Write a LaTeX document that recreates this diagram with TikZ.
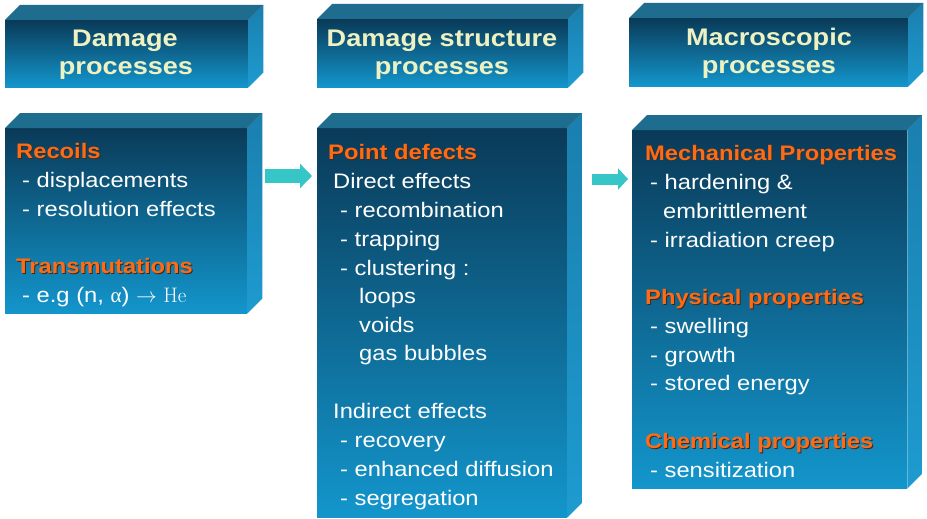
\documentclass[tikz,border=0pt]{standalone}
\usepackage{fontspec}
\setmainfont{Liberation Sans}[FakeStretch=1.13]
\newfontfamily\lmrom{Latin Modern Roman}
\newfontfamily\tnrom{Liberation Serif}
\usetikzlibrary{arrows.meta,calc}
\definecolor{topdark}{HTML}{0A3A58}
\definecolor{botbright}{HTML}{1396CC}
\definecolor{topface}{HTML}{1E6C8E}
\definecolor{sidetop}{HTML}{1A7FAE}
\definecolor{sidebot}{HTML}{1E9BD0}
\definecolor{headtxt}{HTML}{EEF2C2}
\definecolor{orangetxt}{HTML}{FF6A14}
\definecolor{shadowc}{HTML}{3A2A20}
\definecolor{arrowc}{HTML}{36C6C8}
\tikzset{
  front/.style={draw=none, inner sep=0pt, anchor=north west, top color=topdark, bottom color=botbright},
  topf/.style={fill=topface},
  sidef/.style={top color=sidetop, bottom color=sidebot},
  headtext/.style={text=headtxt, anchor=base, inner sep=0pt, font=\bfseries\fontsize{24}{29}\selectfont},
  bodyline/.style={text=white, anchor=base west, inner sep=0pt, font=\fontsize{21}{29}\selectfont},
  flowa/.style={line width=14pt, draw=arrowc, -{Triangle[width=24pt,length=12pt]}},
  flowb/.style={line width=11pt, draw=arrowc, -{Triangle[width=21pt,length=10pt]}}
}
\newcommand{\hd}[1]{\makebox[0pt][l]{\raisebox{-1pt}{\hspace{1pt}\color{shadowc}\bfseries #1}}{\color{orangetxt}\bfseries #1}}
\newcommand{\boxfaces}[1]{%
  \fill[topf] (#1.north west) -- ++(15,-15) -- ($(#1.north east)+(15,-15)$) -- (#1.north east) -- cycle;
  \shade[sidef] (#1.north east) -- ++(15,-15) -- ($(#1.south east)+(15,-15)$) -- (#1.south east) -- cycle;}
\begin{document}
\begin{tikzpicture}[x=1pt,y=-1pt]
\useasboundingbox (0,0) rectangle (927,519);
\fill[white] (0,0) rectangle (927,519);
% headers
\node[front, minimum width=243pt, minimum height=67pt] (h1) at (5,20) {};
\node[front, minimum width=251pt, minimum height=68pt] (h2) at (317,19) {};
\node[front, minimum width=279pt, minimum height=68pt] (h3) at (629,18) {};
\boxfaces{h1}\boxfaces{h2}\boxfaces{h3}
% bodies
\node[front, minimum width=242pt, minimum height=185pt] (b1) at (5,128) {};
\node[front, minimum width=250pt, minimum height=389pt] (b2) at (317,128) {};
\node[front, minimum width=275pt, minimum height=358pt] (b3) at (632,130) {};
\boxfaces{b1}\boxfaces{b2}\boxfaces{b3}
% header texts
\node[headtext] (h1a) at (125,47) {Damage};
\node[headtext] (h1b) at (126,75) {processes};
\node[headtext] (h2a) at (442,47) {Damage structure};
\node[headtext] (h2b) at (442,75) {processes};
\node[headtext] (h3a) at (769,46) {Macroscopic};
\node[headtext] (h3b) at (769,74) {processes};
% box 1 text
\node[bodyline] (r1) at (16,158) {\hd{Recoils}};
\node[bodyline] (r2) at (22,187) {- displacements};
\node[bodyline] (r3) at (22,216) {- resolution effects};
\node[bodyline] (r4) at (16,273) {\hd{Transmutations}};
\node[bodyline] (r5) at (22,302) {- e.g (n, {\tnrom α}) $\rightarrow$ {\lmrom He}};
% box 2 text
\node[bodyline] (s1) at (328,159) {\hd{Point defects}};
\node[bodyline] (s2) at (333,188) {Direct effects};
\node[bodyline] (s3) at (340,217) {- recombination};
\node[bodyline] (s4) at (340,246) {- trapping};
\node[bodyline] (s5) at (340,275) {- clustering :};
\node[bodyline] (s6) at (359,303) {loops};
\node[bodyline] (s7) at (359,332) {voids};
\node[bodyline] (s8) at (359,360) {gas bubbles};
\node[bodyline] (s9) at (333,418) {Indirect effects};
\node[bodyline] (s10) at (340,447) {- recovery};
\node[bodyline] (s11) at (340,476) {- enhanced diffusion};
\node[bodyline] (s12) at (340,505) {- segregation};
% box 3 text
\node[bodyline] (m1) at (645,160) {\hd{Mechanical Properties}};
\node[bodyline] (m2) at (650,189) {- hardening \&};
\node[bodyline] (m3) at (663,218) {embrittlement};
\node[bodyline] (m4) at (650,247) {- irradiation creep};
\node[bodyline] (m5) at (645,304) {\hd{Physical properties}};
\node[bodyline] (m6) at (650,333) {- swelling};
\node[bodyline] (m7) at (650,362) {- growth};
\node[bodyline] (m8) at (650,390) {- stored energy};
\node[bodyline] (m9) at (645,448) {\hd{Chemical properties}};
\node[bodyline] (m10) at (650,477) {- sensitization};
% arrows
\coordinate (a1s) at ([xshift=18pt,yshift=-48pt]b1.north east);
\coordinate (a1e) at ([xshift=-5pt]b2.west);
\draw[flowa] (a1s) -- (a1s -| a1e);
\coordinate (a2s) at ([xshift=25pt,yshift=-51pt]b2.north east);
\coordinate (a2e) at ([xshift=-4pt]b3.west);
\draw[flowb] (a2s) -- (a2s -| a2e);
\end{tikzpicture}
\end{document}
